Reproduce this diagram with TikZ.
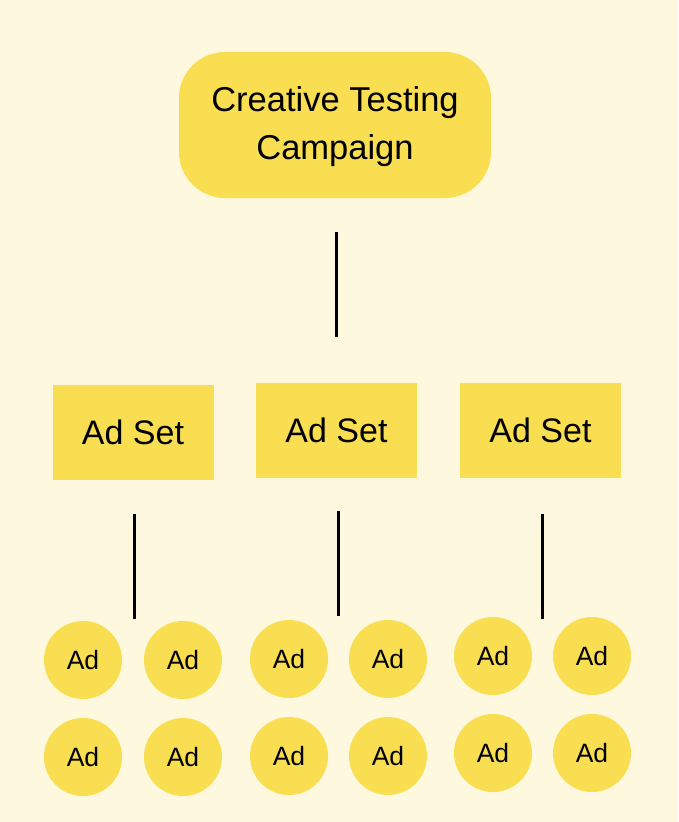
\documentclass[tikz,border=0pt]{standalone}
\usepackage{fontspec}
\setmainfont{Liberation Sans}
\definecolor{bg}{HTML}{FEF9DE}
\definecolor{ylw}{HTML}{F9DE52}
\begin{document}
\begin{tikzpicture}[x=1pt,y=-1pt,
  campaign/.style={fill=ylw,rounded corners=46pt,minimum width=312pt,minimum height=146pt,inner sep=0pt,align=center,font=\fontsize{34.5}{48}\selectfont},
  adset/.style={fill=ylw,minimum width=161pt,minimum height=95pt,inner sep=0pt,font=\fontsize{34}{40}\selectfont},
  adcircle/.style={fill=ylw,circle,minimum size=78pt,inner sep=0pt,font=\fontsize{26.5}{30}\selectfont},
  link/.style={line width=3pt}]
\fill[bg] (0,0) rectangle (678,822);
\useasboundingbox (0,0) rectangle (678,822);
\node[campaign] (camp) at (335,125) {};
\node[align=center,font=\fontsize{34.5}{48}\selectfont,inner sep=0pt] (camptext) at (335,127) {Creative Testing\\Campaign};
\node[adset] (s1) at (133,432) {Ad Set};
\node[adset] (s2) at (336.5,430.5) {Ad Set};
\node[adset] (s3) at (540.5,430.5) {Ad Set};
\coordinate (t0a) at (336,232); \coordinate (t0b) at (336,337);
\coordinate (t1a) at (134,514); \coordinate (t1b) at (134,619);
\coordinate (t2a) at (338,511); \coordinate (t2b) at (338,616);
\coordinate (t3a) at (542,514); \coordinate (t3b) at (542,619);
\draw[link] (t0a) -- (t0b);
\draw[link] (t1a) -- (t1b);
\draw[link] (t2a) -- (t2b);
\draw[link] (t3a) -- (t3b);
\node[adcircle] (a11) at (83,660) {Ad};
\node[adcircle] (a12) at (183,660) {Ad};
\node[adcircle] (a13) at (83,757) {Ad};
\node[adcircle] (a14) at (183,757) {Ad};
\node[adcircle] (a21) at (289,659) {Ad};
\node[adcircle] (a22) at (388,659) {Ad};
\node[adcircle] (a23) at (289,756) {Ad};
\node[adcircle] (a24) at (388,756) {Ad};
\node[adcircle] (a31) at (493,656) {Ad};
\node[adcircle] (a32) at (592,656) {Ad};
\node[adcircle] (a33) at (493,753) {Ad};
\node[adcircle] (a34) at (592,753) {Ad};
\end{tikzpicture}
\end{document}
